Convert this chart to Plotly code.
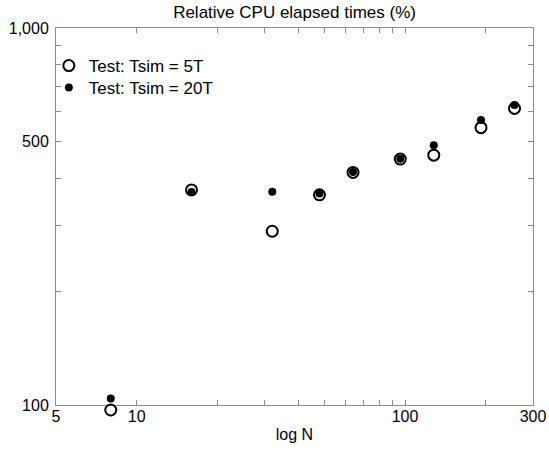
import plotly.graph_objects as go

N = [8, 16, 32, 48, 64, 96, 128, 192, 256]
tsim_5T = [97, 372, 289, 361, 414, 449, 460, 544, 612]
tsim_20T = [104, 367, 368, 364, 415, 450, 489, 570, 625]

x_tickvals = [5, 10, 20, 30, 40, 50, 60, 70, 80, 90, 100, 200, 300]
x_ticktext = ["5", "10", "", "", "", "", "", "", "", "", "100", "", "300"]
y_tickvals = [100, 200, 300, 400, 500, 600, 700, 800, 900, 1000]
y_ticktext = ["100", "", "", "", "500", "", "", "", "", "1,000"]

font_family = "Liberation Sans, Arial, sans-serif"

W, H = 549, 451
L, T, R = 56, 28, 16
PLOT_H = 377          # one decade of y, in px
EXTRA = 16            # room below the frame so the lowest marker is not hidden
B = H - T - PLOT_H - EXTRA
d0 = EXTRA / (PLOT_H + EXTRA)
e = EXTRA / PLOT_H

fig = go.Figure()
fig.add_trace(go.Scatter(
    x=N, y=tsim_20T, mode="markers", name="Test: Tsim = 20T", legend="legend2",
    xaxis="x", yaxis="y", cliponaxis=False,
    marker=dict(symbol="circle", size=8, color="black"),
))
fig.add_trace(go.Scatter(
    x=N, y=tsim_5T, mode="markers", name="Test: Tsim = 5T", legend="legend",
    xaxis="x", yaxis="y2", cliponaxis=False,
    marker=dict(symbol="circle-open", size=11, color="black", line=dict(width=2, color="black")),
))

axis_common = dict(
    type="log", showgrid=False, zeroline=False, automargin=False,
    showline=True, linecolor="#8c8c8c", linewidth=1,
    mirror="ticks", ticks="inside", ticklen=5, tickcolor="#8c8c8c", tickwidth=1,
    tickfont=dict(family=font_family, size=16, color="black"),
)

def ly(page_y):
    return (T + PLOT_H - page_y) / PLOT_H * (1 - d0) + d0

legend_common = dict(x=-0.015, xanchor="left", yanchor="middle",
                     bgcolor="rgba(0,0,0,0)", font=dict(size=17), itemsizing="trace")

fig.update_layout(
    width=W, height=H,
    margin=dict(l=L, r=R, t=T, b=B),
    paper_bgcolor="white", plot_bgcolor="rgba(0,0,0,0)",
    font=dict(family=font_family, size=16, color="black"),
    title=dict(text="Relative CPU elapsed times (%)", x=0.5365, xanchor="center",
               y=1 - 12 / H, yanchor="middle", font=dict(size=17)),
    showlegend=True,
    legend=dict(legend_common, y=ly(66)),
    legend2=dict(legend_common, y=ly(88)),
    xaxis=dict(axis_common, anchor="y", range=[0.69897, 2.47712], tickvals=x_tickvals,
               ticktext=x_ticktext, ticklabelstandoff=-3,
               title=dict(text="log N", standoff=4, font=dict(size=16))),
    yaxis=dict(axis_common, anchor="x", domain=[d0, 1], range=[2, 3], tickvals=y_tickvals,
               ticktext=y_ticktext, ticklabelstandoff=3),
    yaxis2=dict(type="log", anchor="x", domain=[0, 1], range=[2 - e, 3],
                visible=False, showgrid=False, zeroline=False, automargin=False),
)

fig.write_html("out.html", config={"displayModeBar": False},
               post_script="document.body.style.margin='0px';")
